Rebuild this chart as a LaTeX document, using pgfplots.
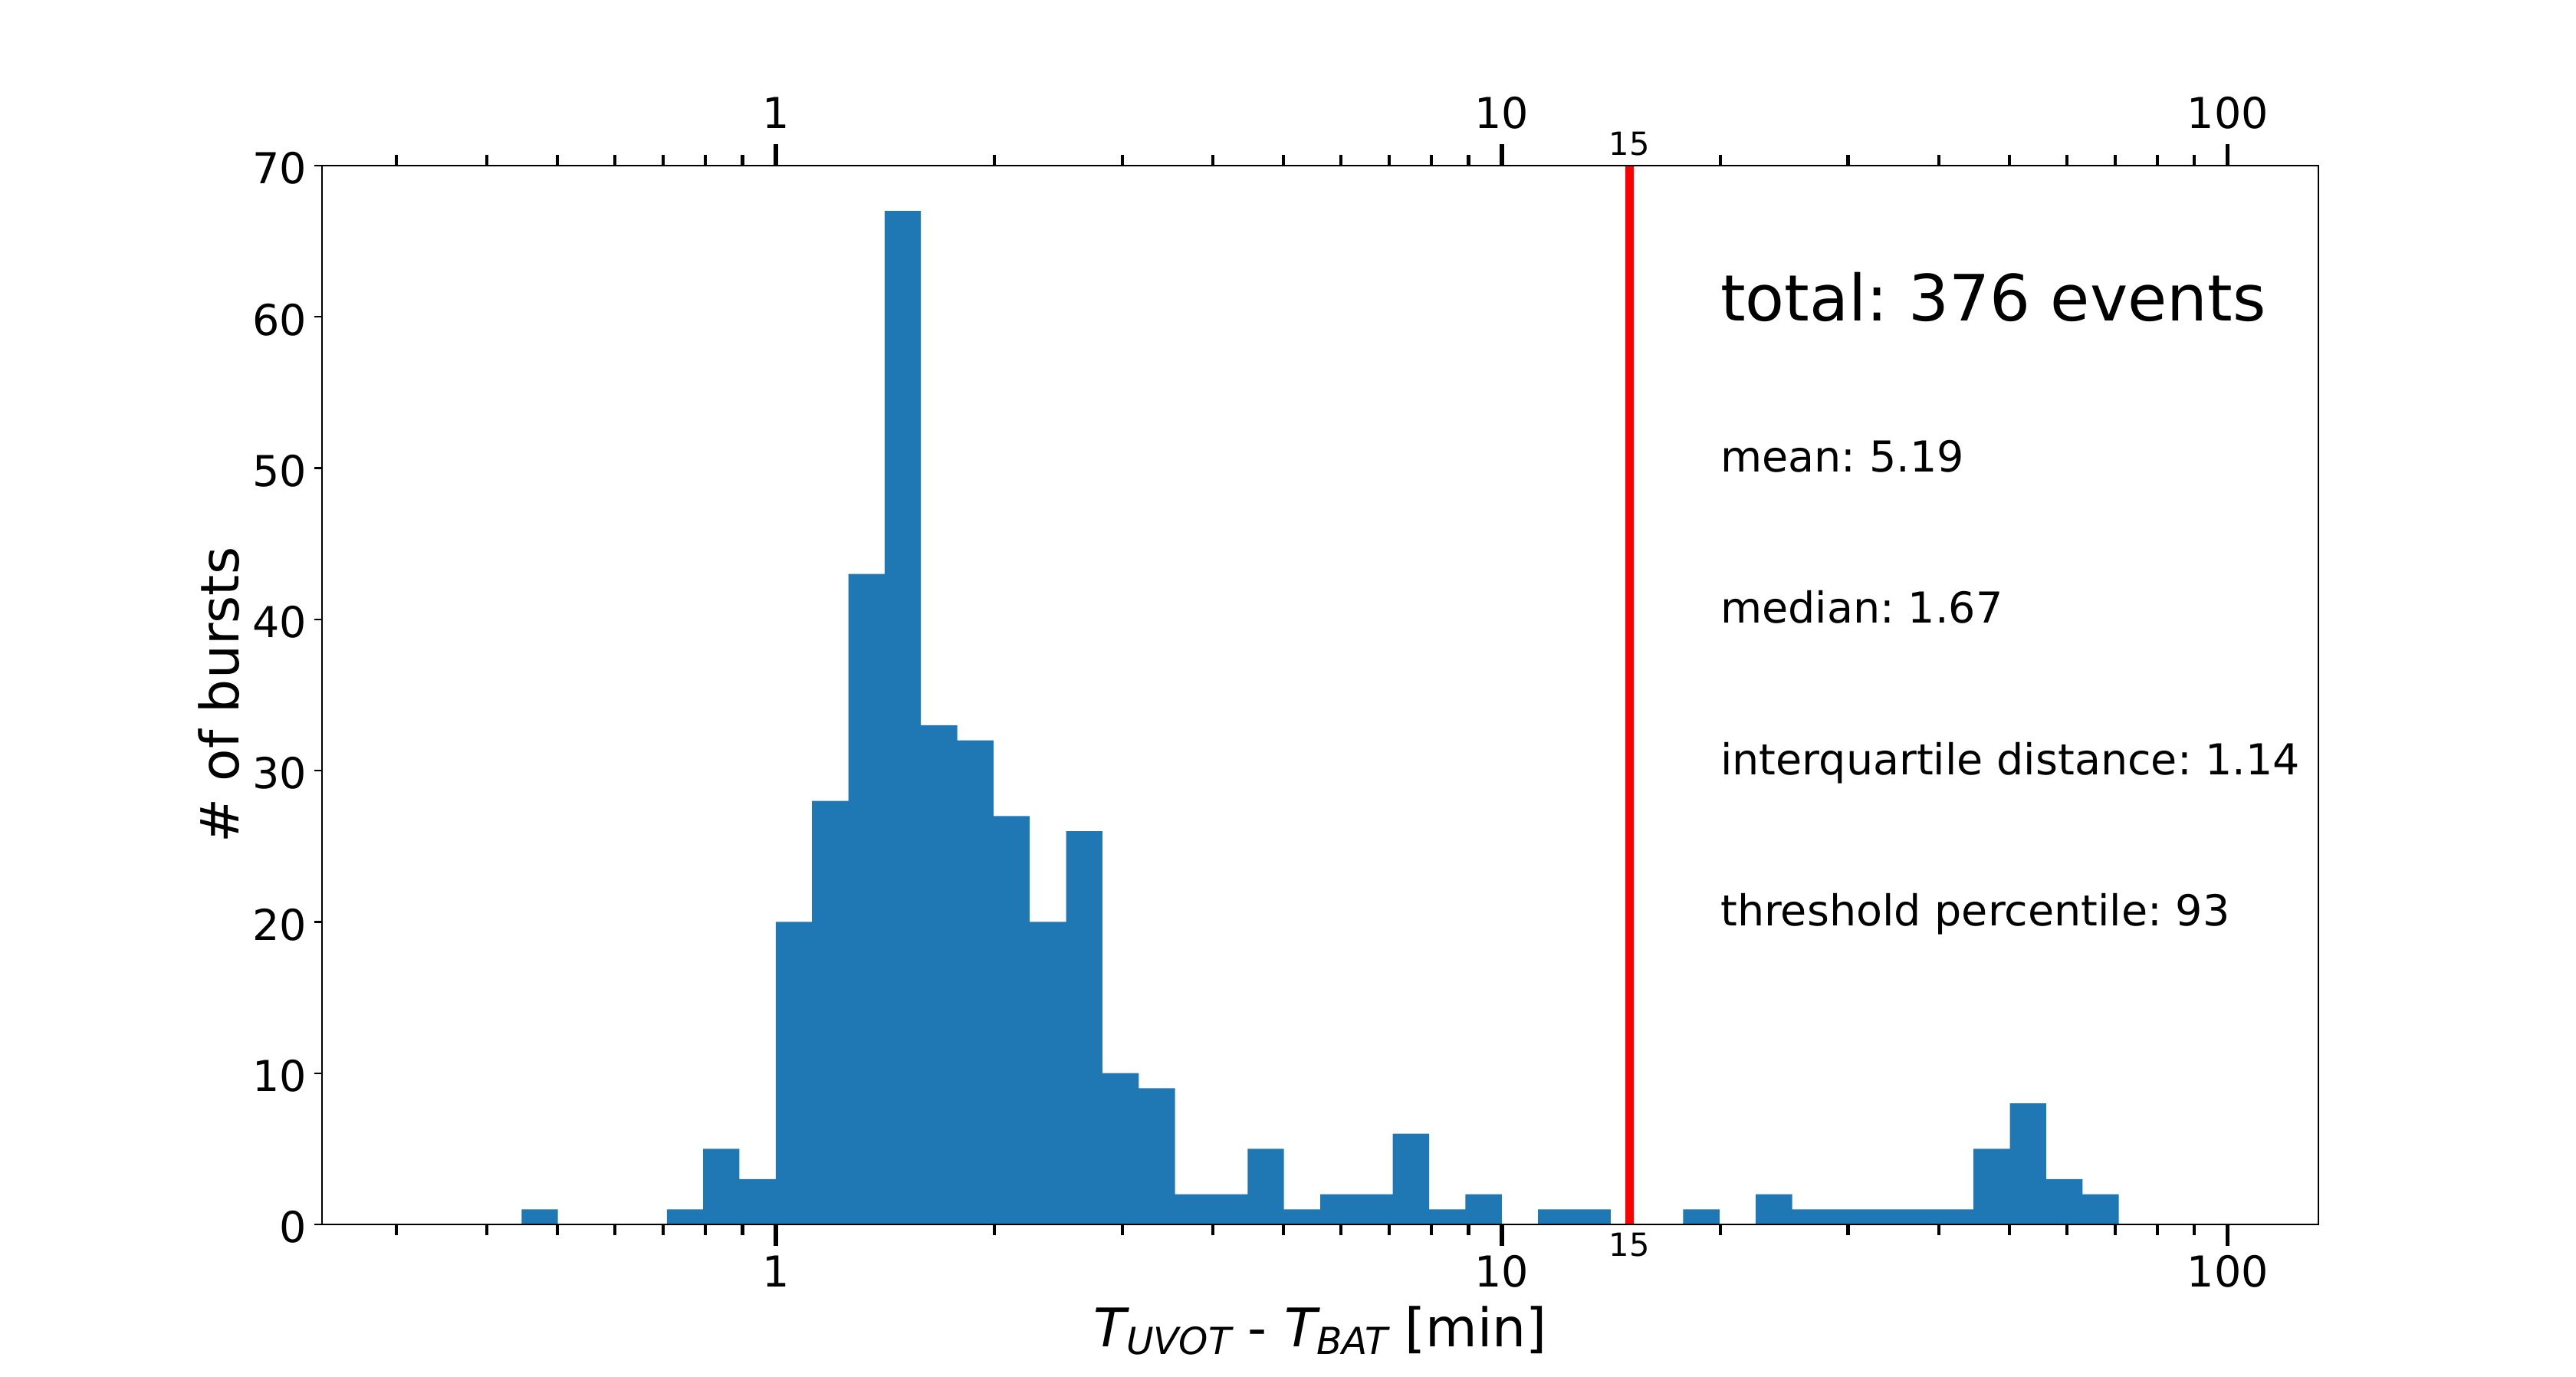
\documentclass[border=0pt]{standalone}
\usepackage{pgfplots}
\pgfplotsset{compat=1.18}
\usepackage{pgfplotstable}
\usepackage{fontspec}
\setmainfont{DejaVu Sans}
\definecolor{histblue}{HTML}{1F77B4}
\pgfkeys{/pgf/number format/assume math mode=true}
\frenchspacing
\tikzset{stat/.style={anchor=base west, inner sep=0pt, yshift=-1.8pt}}

% Burst counts in log-spaced bins (20 per decade, 10^-0.5 .. 10^2).
% Each row holds the left edge of a bin; the last row closes the final bin.
\pgfplotstableread{
edge      count
0.316228  0
0.354813  0
0.398107  0
0.446684  1
0.501187  0
0.562341  0
0.630957  0
0.707946  1
0.794328  5
0.891251  3
1.000000  20
1.122018  28
1.258925  43
1.412538  67
1.584893  33
1.778279  32
1.995262  27
2.238721  20
2.511886  26
2.818383  10
3.162278  9
3.548134  2
3.981072  2
4.466836  5
5.011872  1
5.623413  2
6.309573  2
7.079458  6
7.943282  1
8.912509  2
10.00000  0
11.22018  1
12.58925  1
14.12538  0
15.84893  0
17.78279  1
19.95262  0
22.38721  2
25.11886  1
28.18383  1
31.62278  1
35.48134  1
39.81072  1
44.66836  5
50.11872  8
56.23413  3
63.09573  2
70.79458  0
79.43282  0
89.12509  0
100.0000  0
}\bursts

\newcommand{\sub}[1]{\raisebox{-3.6pt}{\fontsize{17.5}{20}\selectfont\itshape #1}}

\begin{document}
\begin{tikzpicture}
\path[use as bounding box] (0,0) rectangle (1209.6pt,646.56pt);

% histogram, threshold line, y axis and annotations
\begin{axis}[
  xmode=log, xmin=0.237137, xmax=133.3521, ymin=0, ymax=70,
  at={(151.2pt,71.64pt)}, anchor=south west,
  scale only axis, width=937.44pt, height=497.16pt,
  clip=false,
  axis line style={line width=0.8pt, black},
  xtick=\empty,
  ytick={0,10,20,30,40,50,60,70}, ytick pos=left, tick align=outside,
  major tick length=3.5pt,
  ytick style={line width=0.8pt, black},
  yticklabel style={inner sep=0pt, font=\fontsize{20}{24}\selectfont, anchor=east,
                    xshift=-3.4pt, yshift=-1.3pt},
  ylabel={\# of bursts},
  ylabel style={at={(axis description cs:-0.04182,0.5)}, anchor=base,
                font=\fontsize{25}{30}\selectfont},
  xlabel={{\itshape T}\sub{UVOT} - {\itshape T}\sub{BAT} [min]},
  xlabel style={at={(axis description cs:0.5,-0.11586)}, anchor=base,
                font=\fontsize{25}{30}\selectfont},
]
\addplot[const plot mark left, fill=histblue, draw=none] table[x=edge, y=count] {\bursts} \closedcycle;
\addplot[red, line width=4pt] coordinates {(15,0) (15,70)};
\node[stat, font=\fontsize{30}{36}\selectfont] at (axis cs:20,60) {total: 376 events};
\node[stat, font=\fontsize{20}{24}\selectfont] at (axis cs:20,50) {mean: 5.19};
\node[stat, font=\fontsize{20}{24}\selectfont] at (axis cs:20,40) {median: 1.67};
\node[stat, font=\fontsize{20}{24}\selectfont] at (axis cs:20,30) {interquartile distance: 1.14};
\node[stat, font=\fontsize{20}{24}\selectfont] at (axis cs:20,20) {threshold percentile: 93};
\end{axis}

% bottom x axis with decade labels and the threshold label
\begin{axis}[
  xmode=log, xmin=0.237137, xmax=133.3521, ymin=0, ymax=70,
  at={(151.2pt,71.64pt)}, anchor=south west,
  scale only axis, width=937.44pt, height=497.16pt,
  axis y line=none, axis x line*=bottom,
  axis line style={line width=0.8pt, black},
  tick align=outside,
  xtick={1,10,100}, xticklabels={1,10,100},
  minor xtick={0.3,0.4,0.5,0.6,0.7,0.8,0.9,2,3,4,5,6,7,8,9,20,30,40,50,60,70,80,90},
  major tick length=10pt, minor tick length=5pt,
  major x tick style={line width=2pt, black},
  minor x tick style={line width=1.5pt, black},
  xticklabel style={inner sep=0pt, font=\fontsize{20}{24}\selectfont, anchor=base, yshift=-19.2pt},
  extra x ticks={15}, extra x tick labels={15},
  extra x tick style={major tick length=0pt,
    xticklabel style={font=\fontsize{15}{18}\selectfont, yshift=4.4pt}},
]
\end{axis}

% top x axis with decade labels and the threshold label
\begin{axis}[
  xmode=log, xmin=0.237137, xmax=133.3521, ymin=0, ymax=70,
  at={(151.2pt,71.64pt)}, anchor=south west,
  scale only axis, width=937.44pt, height=497.16pt,
  axis y line=none, axis x line*=top,
  axis line style={line width=0.8pt, black},
  tick align=outside,
  xtick={1,10,100}, xticklabels={1,10,100},
  minor xtick={0.3,0.4,0.5,0.6,0.7,0.8,0.9,2,3,4,5,6,7,8,9,20,30,40,50,60,70,80,90},
  major tick length=10pt, minor tick length=5pt,
  major x tick style={line width=2pt, black},
  minor x tick style={line width=1.5pt, black},
  xticklabel style={inner sep=0pt, font=\fontsize{20}{24}\selectfont, anchor=base, yshift=7.6pt},
  extra x ticks={15}, extra x tick labels={15},
  extra x tick style={major tick length=0pt,
    xticklabel style={font=\fontsize{15}{18}\selectfont, yshift=-2.9pt}},
]
\end{axis}
\end{tikzpicture}
\end{document}
